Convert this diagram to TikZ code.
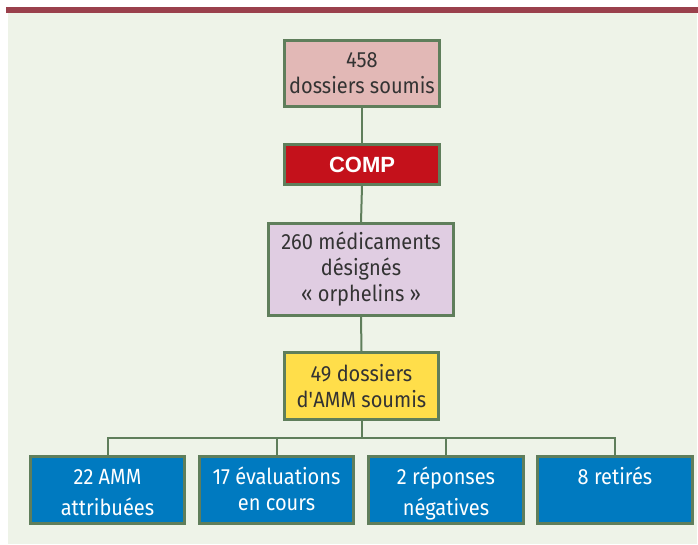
\documentclass[tikz,border=0pt]{standalone}
\usepackage{fontspec}
\setmainfont{Fira Sans}[FakeStretch=0.91]
\newfontfamily\compfont{Liberation Sans}
\definecolor{bgc}{HTML}{EEF3E8}
\definecolor{barc}{HTML}{9A404C}
\definecolor{bordc}{HTML}{5F7E5B}
\definecolor{pinkc}{HTML}{E2B8B6}
\definecolor{redc}{HTML}{C4111B}
\definecolor{lilac}{HTML}{E0CDE2}
\definecolor{yelc}{HTML}{FFDE4A}
\definecolor{bluec}{HTML}{007AC0}
\definecolor{txtc}{HTML}{333333}
\newcommand{\fl}{\rule{0pt}{19pt}}
\tikzset{
  box/.style={draw=bordc, line width=2.6pt, inner sep=0pt, align=center,
    text=txtc, font=\fontsize{22}{26}\selectfont},
  botbox/.style={box, fill=bluec, minimum width=154pt, minimum height=67pt},
  botlbl/.style={anchor=north, inner sep=0pt, align=center, text=white},
  link/.style={draw=bordc, line width=2pt}
}
\begin{document}
\begin{tikzpicture}[x=1pt, y=-1pt]
\useasboundingbox (0,0) rectangle (698,544);
\fill[bgc] (8,13) rectangle (697,544);
\fill[barc] (6,7.3) rectangle (698,13);

\node[box, fill=pinkc, minimum width=155pt, minimum height=66pt] (b1) at (362,73.5) {458\\dossiers soumis};
\node[box, fill=redc, text=white, minimum width=155pt, minimum height=40pt,
  font=\compfont\bfseries\fontsize{22}{24}\selectfont] (comp) at (362,164.5) {COMP};
\node[box, fill=lilac, minimum width=185pt, minimum height=92pt] (b3) at (361,269.5) {260 médicaments\\désignés\\«~orphelins~»};
\node[box, fill=yelc, minimum width=154pt, minimum height=67pt] (b4) at (361.5,386) {49 dossiers\\d\textquotesingle AMM soumis};

\coordinate (bus) at (361.5,438);

\node[botbox] (bA) at (107.5,490) {};
\node[botbox] (bB) at (276.5,490) {};
\node[botbox, minimum width=155pt] (bC) at (446,490) {};
\node[botbox, minimum width=155pt] (bD) at (615,490) {};

\node[botlbl, font=\fontsize{22}{31.5}\selectfont] (tA) at (107.5,465) {\fl 22 AMM\\attribuées};
\node[botlbl, font=\fontsize{22}{26}\selectfont] (tB) at (276.5,465) {\fl 17 évaluations\\en cours};
\node[botlbl, font=\fontsize{22}{31.5}\selectfont] (tC) at (446,465) {\fl 2 réponses\\négatives};
\node[botlbl, font=\fontsize{22}{26}\selectfont] (tD) at (615,465) {\fl 8 retirés};

\draw[link] (b1.south) -- (comp.north);
\draw[link] (comp.south) -- (b3.north);
\draw[link] (b3.south) -- (b4.north);
\draw[link] (b4.south) -- (bus);
\draw[link, line cap=rect] (bA.north |- bus) -- (bD.north |- bus);
\foreach \n in {bA,bB,bC,bD} \draw[link] (\n.north |- bus) -- (\n.north);
\end{tikzpicture}
\end{document}
